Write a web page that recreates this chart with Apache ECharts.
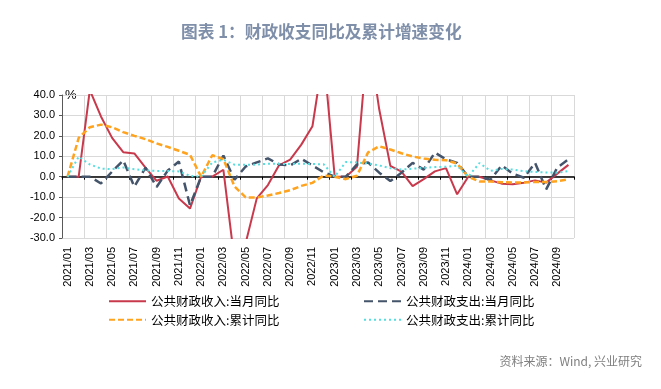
<!DOCTYPE html>
<html>
<head>
<meta charset="utf-8">
<script src="https://cdn.jsdelivr.net/npm/echarts@6/dist/echarts.min.js"></script>
<style>
html,body{margin:0;padding:0;background:#fff;}
#c{width:661px;height:389px;}
</style>
</head>
<body>
<div id="c"></div>
<script>
var categories = [
  '2021/01','2021/02','2021/03','2021/04','2021/05','2021/06','2021/07','2021/08','2021/09','2021/10','2021/11','2021/12',
  '2022/01','2022/02','2022/03','2022/04','2022/05','2022/06','2022/07','2022/08','2022/09','2022/10','2022/11','2022/12',
  '2023/01','2023/02','2023/03','2023/04','2023/05','2023/06','2023/07','2023/08','2023/09','2023/10','2023/11','2023/12',
  '2024/01','2024/02','2024/03','2024/04','2024/05','2024/06','2024/07','2024/08','2024/09','2024/10'
];
var seriesNames = ['公共财政收入:当月同比','公共财政支出:当月同比','公共财政收入:累计同比','公共财政支出:累计同比'];
var revenueMonthly = [
  0, 0, 42.4, 29.5, 19.0, 12.0, 11.4, 4.5, -2.0, 0.1, -10.7, -15.6,
  0, 0, 3.4, -41.3, -32.5, -10.6, -4.1, 5.6, 8.4, 15.7, 24.7, 60.0,
  0, 0, 4.9, 70.0, 33.0, 5.3, 2.5, -4.6, -1.2, 2.6, 4.2, -8.6,
  0, 0, -1.8, -3.4, -3.7, -2.9, -1.8, -2.9, 1.5, 5.8
];
var expenditureMonthly = [
  0, 0, 0, -3.3, 2.5, 8.0, -4.9, 4.4, -5.0, 3.0, 7.4, -14.0,
  0, 0, 10.4, -1.5, 5.0, 7.0, 9.0, 6.0, 5.5, 8.8, 5.5, 2.2,
  0, 0, 6.0, 7.0, 2.0, -2.1, 2.0, 6.8, 3.5, 11.8, 8.5, 6.8,
  0, 0, -1.5, 5.5, 1.5, -0.5, 6.8, -6.2, 4.5, 8.5
];
var revenueCumulative = [
  0, 19.0, 24.2, 25.5, 24.2, 21.8, 20.0, 18.4, 16.3, 14.6, 12.7, 10.7,
  0, 10.5, 8.6, -4.8, -10.1, -10.2, -9.2, -8.0, -6.6, -4.5, -3.0, 0.6,
  0, -1.2, 0.5, 11.9, 14.9, 13.3, 11.5, 9.9, 8.9, 8.3, 8.1, 6.4,
  0, -2.3, -2.3, -2.7, -2.8, -2.8, -2.6, -2.6, -2.2, -1.3
];
var expenditureCumulative = [
  0, 9.8, 6.0, 4.0, 3.7, 4.5, 3.7, 3.1, 2.8, 2.8, 2.6, 0.4,
  0, 7.0, 8.3, 5.9, 5.9, 5.9, 6.4, 6.3, 6.2, 6.4, 6.2, 6.1,
  0, 7.2, 7.0, 6.5, 5.5, 4.2, 3.5, 3.9, 4.3, 4.7, 4.9, 5.4,
  0, 6.7, 2.9, 3.8, 3.5, 2.7, 2.3, 2.1, 2.0, 2.7
];
var yMin = -30, yMax = 40, yStep = 10;

var chart = echarts.init(document.getElementById('c'), null, {renderer: 'canvas'});
var cjk = '"Noto Sans CJK SC", "Noto Sans", sans-serif';
var num = '"Liberation Sans", Arial, sans-serif';

function lineSeries(name, data, color, width, type, z) {
  return {
    name: name, type: 'line', data: data, xAxisIndex: 1, yAxisIndex: 0,
    symbol: 'none', showSymbol: false, smooth: false, z: z,
    lineStyle: {color: color, width: width, type: type},
    itemStyle: {color: color},
    emphasis: {disabled: true}
  };
}

var legendCommon = {
  orient: 'vertical', top: 295, padding: 0,
  itemWidth: 37, itemHeight: 14, itemGap: 6,
  itemStyle: {opacity: 0},
  textStyle: {fontFamily: cjk, fontSize: 12.5, color: '#000'}
};

chart.setOption({
  animation: false,
  backgroundColor: '#ffffff',
  grid: {left: 62, right: 87, top: 95, bottom: 151, containLabel: false},
  graphic: [
    {type: 'text', left: 181, top: 23, style: {text: '图表 1：财政收支同比及累计增速变化', fill: '#7F8FA9', font: 'bold 16.7px ' + cjk}},
    {type: 'text', left: 65, top: 89, style: {text: '%', fill: '#000', font: '13px ' + num}},
    {type: 'text', right: 19, top: 355, style: {text: '资料来源：Wind, 兴业研究', fill: '#7f7f7f', font: '12px ' + cjk}}
  ],
  legend: [
    Object.assign({data: [seriesNames[0], seriesNames[2]], left: 108}, legendCommon),
    Object.assign({data: [seriesNames[1], seriesNames[3]], left: 363}, legendCommon)
  ],
  xAxis: [
    {type: 'category', data: categories, position: 'top', boundaryGap: true,
     axisLine: {show: true, onZero: true, lineStyle: {color: '#000', width: 1.5}},
     axisTick: {show: true, inside: true, length: 3, interval: 1, lineStyle: {color: '#000'}},
     axisLabel: {show: false}, splitLine: {show: false}},
    {type: 'category', data: categories, position: 'bottom', boundaryGap: true,
     axisLine: {show: false, onZero: false}, axisTick: {show: false},
     axisLabel: {show: true, interval: 1, rotate: 90, margin: 9, fontSize: 11, fontFamily: num, color: '#000'},
     splitLine: {show: true, interval: 1, lineStyle: {color: '#D9D9D9', width: 1}}}
  ],
  yAxis: [
    {type: 'value', min: yMin, max: yMax, interval: yStep,
     axisLine: {show: true, lineStyle: {color: '#595959', width: 1}},
     axisTick: {show: true, length: 3, lineStyle: {color: '#595959'}},
     axisLabel: {formatter: function (v) { return v.toFixed(1); }, fontSize: 11, fontFamily: num, color: '#000', margin: 7},
     splitLine: {show: true, lineStyle: {color: '#D9D9D9', width: 1}}}
  ],
  series: [
    lineSeries(seriesNames[0], revenueMonthly, '#C9394C', 2, 'solid', 3),
    lineSeries(seriesNames[1], expenditureMonthly, '#44546A', 2.5, [9, 5], 4),
    lineSeries(seriesNames[2], revenueCumulative, '#FFA31F', 2.5, [6, 3], 5),
    lineSeries(seriesNames[3], expenditureCumulative, '#55DDE0', 2, [2, 3], 6)
  ]
});
</script>
</body>
</html>
